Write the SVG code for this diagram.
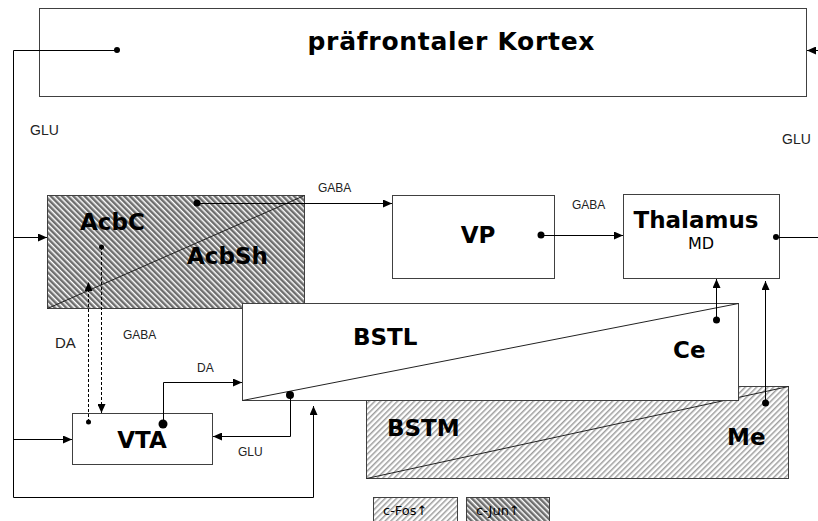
<svg xmlns="http://www.w3.org/2000/svg" width="818" height="521" viewBox="0 0 818 521">
<style>
.box{fill:#fff;stroke:#404040;stroke-width:1}
.hd{fill:url(#dark);stroke:#404040;stroke-width:1}
.hl{fill:url(#light);stroke:#404040;stroke-width:1}
.diag{stroke:#222;stroke-width:1;fill:none}
.big{font-family:"DejaVu Sans",Verdana,sans-serif;font-weight:bold;font-size:23px;fill:#000}
.sm{font-family:"Liberation Sans",Arial,sans-serif;font-size:12px;fill:#222}
.md{font-family:"Liberation Sans",Arial,sans-serif;font-size:14px;fill:#222}
.leg{font-family:"DejaVu Sans",Verdana,sans-serif;font-size:13px;fill:#000}
.ln{stroke:#000;stroke-width:1;fill:none}
.ds{stroke:#000;stroke-width:1;fill:none;stroke-dasharray:3 2}
.dot{fill:#000}
</style>
<defs>
<pattern id="dark" width="4" height="4" patternUnits="userSpaceOnUse" patternTransform="rotate(-45)">
<rect width="4" height="4" fill="#fff"/>
<rect width="2.5" height="4" fill="#6e6e6e"/>
</pattern>
<pattern id="light" width="4" height="4" patternUnits="userSpaceOnUse" patternTransform="rotate(45)">
<rect width="4" height="4" fill="#fff"/>
<rect width="1.5" height="4" fill="#9e9e9e"/>
</pattern>
<marker id="arr" markerWidth="10" markerHeight="8" refX="9" refY="4" orient="auto" markerUnits="userSpaceOnUse">
<path d="M0,0 L9,4 L0,8 Z" fill="#000"/>
</marker>
</defs>

<g id="pfc">
<rect class="box" x="39.5" y="8.5" width="767" height="88"/>
<text class="big" x="451" y="50" text-anchor="middle" style="font-size:25px" textLength="287" lengthAdjust="spacing">präfrontaler Kortex</text>
</g>

<g id="acb">
<rect class="hd" x="47.5" y="195.5" width="257" height="113"/>
<line class="diag" x1="47.5" y1="308.5" x2="304.5" y2="195.5"/>
<text class="big" x="80" y="230">AcbC</text>
<text class="big" x="187" y="264">AcbSh</text>
</g>

<g id="vp">
<rect class="box" x="392.5" y="195.5" width="162" height="83"/>
<text class="big" x="478" y="243" text-anchor="middle">VP</text>
</g>

<g id="thalamus">
<rect class="box" x="623.5" y="194.5" width="156" height="84"/>
<text class="big" x="696" y="228" text-anchor="middle">Thalamus</text>
<text x="701" y="249" text-anchor="middle" style="font-family:'DejaVu Sans',Verdana,sans-serif;font-size:16px;fill:#000">MD</text>
</g>

<g id="bstm">
<rect class="hl" x="366.5" y="386.5" width="422" height="92"/>
<line class="diag" x1="366.5" y1="478.5" x2="788.5" y2="386.5"/>
<text class="big" x="387" y="436">BSTM</text>
<text class="big" x="727" y="445">Me</text>
</g>

<g id="bstl">
<rect class="box" x="242.5" y="303.5" width="496" height="97"/>
<line class="diag" x1="242.5" y1="400.5" x2="738.5" y2="303.5"/>
<text class="big" x="353" y="345">BSTL</text>
<text class="big" x="673" y="358">Ce</text>
</g>

<g id="vta">
<rect class="box" x="72.5" y="413.5" width="140" height="51"/>
<text class="big" x="142" y="448" text-anchor="middle">VTA</text>
</g>

<g id="legend">
<rect class="hl" x="373.5" y="497.5" width="84" height="24"/>
<text class="leg" x="383" y="515">c-Fos↑</text>
<rect class="hd" x="466.5" y="497.5" width="83" height="24"/>
<text class="leg" x="476" y="515">c-Jun↑</text>
</g>

<g id="connectors">
<circle class="dot" cx="117" cy="50" r="3"/>
<polyline class="ln" points="117,50.5 13.5,50.5 13.5,497.5 313.5,497.5 313.5,406" marker-end="url(#arr)"/>
<line class="ln" x1="13.5" y1="237.5" x2="47" y2="237.5" marker-end="url(#arr)"/>
<line class="ln" x1="13.5" y1="439.5" x2="72" y2="439.5" marker-end="url(#arr)"/>
<line class="ln" x1="818" y1="50.5" x2="807" y2="50.5" marker-end="url(#arr)"/>
<circle class="dot" cx="776" cy="237" r="3"/>
<line class="ln" x1="776" y1="237.5" x2="818" y2="237.5"/>
<circle class="dot" cx="197" cy="203" r="3.5"/>
<line class="ln" x1="197" y1="203.5" x2="392" y2="203.5" marker-end="url(#arr)"/>
<circle class="dot" cx="541" cy="235" r="3.5"/>
<line class="ln" x1="541" y1="235.5" x2="623" y2="235.5" marker-end="url(#arr)"/>
<circle class="dot" cx="101.5" cy="247" r="2.5"/>
<line class="ds" x1="101.5" y1="247" x2="101.5" y2="413" marker-end="url(#arr)"/>
<circle class="dot" cx="88.5" cy="422" r="2.5"/>
<line class="ds" x1="88.5" y1="422" x2="88.5" y2="282" marker-end="url(#arr)"/>
<circle class="dot" cx="163" cy="424" r="4.5"/>
<polyline class="ln" points="163.5,424 163.5,382.5 242,382.5" marker-end="url(#arr)"/>
<circle class="dot" cx="290" cy="395" r="4"/>
<polyline class="ln" points="290.5,395 290.5,436.5 213,436.5" marker-end="url(#arr)"/>
<circle class="dot" cx="716.5" cy="320" r="3.5"/>
<line class="ln" x1="716.5" y1="320" x2="716.5" y2="279" marker-end="url(#arr)"/>
<circle class="dot" cx="765.5" cy="403" r="3.5"/>
<line class="ln" x1="765.5" y1="403" x2="765.5" y2="281" marker-end="url(#arr)"/>
</g>

<g id="labels">
<text class="md" x="30" y="135">GLU</text>
<text class="md" x="782" y="144">GLU</text>
<text class="sm" x="318" y="192">GABA</text>
<text class="sm" x="572" y="209">GABA</text>
<text class="md" x="55" y="348" style="font-size:15px">DA</text>
<text class="sm" x="123" y="339">GABA</text>
<text class="sm" x="197" y="372">DA</text>
<text class="sm" x="238" y="456">GLU</text>
</g>
</svg>
